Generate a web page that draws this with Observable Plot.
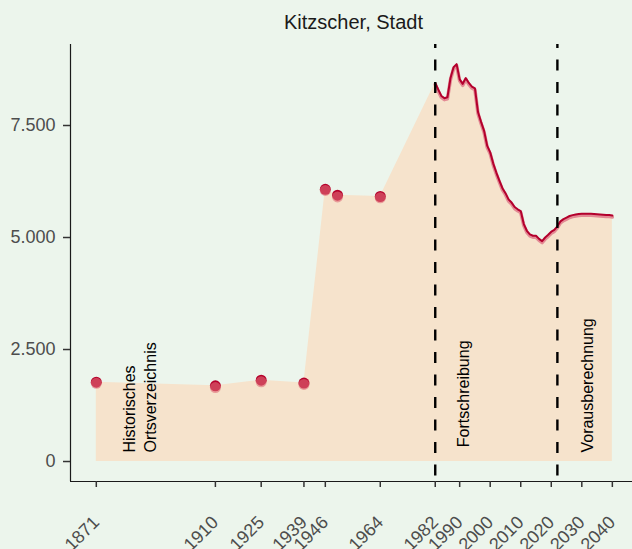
<!DOCTYPE html>
<html><head><meta charset="utf-8">
<script src="https://cdn.jsdelivr.net/npm/d3@7"></script>
<script src="https://cdn.jsdelivr.net/npm/@observablehq/plot@0.6"></script>
<style>html,body{margin:0;padding:0;background:#ecf5ec;} svg{display:block}</style>
</head><body><div id="chart"></div>
<script>
const title = "Kitzscher, Stadt";
// Historisches Ortsverzeichnis (points)
const histYears = [1871, 1910, 1925, 1939, 1946, 1950, 1964];
const histValues = [1770, 1690, 1815, 1750, 6075, 5945, 5915];
const histValuesAlt = [1745, 1650, 1780, 1720, 6050, 5905, 5885];
// Fortschreibung + Vorausberechnung (line)
const lineYears = [1982,1983,1984,1985,1986,1987,1988,1989,1990,1991,1992,1993,1994,1995,1996,1997,1998,1999,2000,
  2001,2002,2003,2004,2005,2006,2007,2008,2009,2010,2011,2012,2013,2014,2015,2016,2017,2018,2019,2020,2021,2022,
  2023,2024,2025,2026,2027,2028,2029,2030,2031,2032,2033,2034,2035,2036,2037,2038,2039,2040];
const lineValues = [8450,8300,8160,8110,8130,8560,8800,8870,8530,8430,8560,8450,8370,8330,7800,7580,7380,7050,6900,
  6650,6450,6270,6100,5990,5850,5780,5680,5630,5590,5300,5150,5070,5040,5040,4970,4920,5000,5060,5130,5170,5250,
  5360,5410,5445,5480,5500,5515,5525,5530,5530,5530,5528,5525,5520,5515,5510,5505,5500,5490];
const breakYears = [1982, 2022];
const annoLabels = ["Historisches\nOrtsverzeichnis", "Fortschreibung", "Vorausberechnung"];
const annoYears = [1885, 1991, 2031.5];
const annoValues = [200, 320, 200];
const xTicks = [1871, 1910, 1925, 1939, 1946, 1964, 1982, 1990, 2000, 2010, 2020, 2030, 2040];
const yTicks = [0, 2500, 5000, 7500];
const xDomain = [1862.55, 2046.6];
const yDomain = [-446, 9308];

const histRows = histYears.map((year, i) => ({year, value: histValues[i], alt: histValuesAlt[i]}));
const lineRows = lineYears.map((year, i) => ({year, value: lineValues[i]}));
const areaRows = histRows.map(d => ({year: d.year, value: d.value})).concat(lineRows);
const annoRows = annoLabels.map((text, i) => ({text, year: annoYears[i], value: annoValues[i]}));

const deLocale = d3.formatLocale({decimal: ",", thousands: ".", grouping: [3], currency: ["", " €"]});
const fmt = deLocale.format(",");
const font = "Liberation Sans, Arial, Helvetica, sans-serif";

const chart = Plot.plot({
  width: 632, height: 549,
  marginLeft: 70, marginRight: 0, marginTop: 44, marginBottom: 68,
  x: {domain: xDomain, axis: null},
  y: {domain: yDomain, axis: null},
  style: {background: "#ecf5ec", fontFamily: font},
  marks: [
    Plot.areaY(areaRows, {x: "year", y: "value", fill: "#f6e3cc"}),
    Plot.line(lineRows, {x: "year", y: "value", stroke: "#e38a94", strokeWidth: 3.5, dy: 1.5}),
    Plot.line(lineRows, {x: "year", y: "value", stroke: "#b3002d", strokeWidth: 2}),
    Plot.dot(histRows, {x: "year", y: "value", r: 5.5, fill: "#b5002b"}),
    Plot.dot(histRows, {x: "year", y: "alt", r: 5.5, fill: "#e06a76", fillOpacity: 0.6}),
    Plot.ruleX(breakYears, {stroke: "#000", strokeWidth: 2.4, strokeDasharray: "11,11.5", strokeDashoffset: 7}),
    Plot.text(annoRows, {x: "year", y: "value", text: "text", rotate: -90, textAnchor: "start",
      lineAnchor: "middle", lineHeight: 1.3, fontSize: 16, fill: "#000"}),
    Plot.ruleX([xDomain[0]], {stroke: "#1a1a1a", strokeWidth: 1.2}),
    Plot.ruleY([yDomain[0]], {stroke: "#1a1a1a", strokeWidth: 1.2}),
    Plot.axisY({ticks: yTicks, tickFormat: fmt, tickSize: 7, tickPadding: 8, fontSize: 18,
      fill: "#4d4d4d", stroke: "#333", strokeWidth: 1.5, label: null}),
    Plot.axisX({ticks: xTicks, tickFormat: () => "", tickSize: 6, stroke: "#333", strokeWidth: 1.5, label: null}),
    Plot.text(xTicks, {x: d => d, text: d => String(d), frameAnchor: "bottom", rotate: -45,
      textAnchor: "end", lineAnchor: "top", dx: -5, dy: 33, fontSize: 18, fill: "#4d4d4d"}),
    Plot.text([title], {text: d => d, frameAnchor: "top", lineAnchor: "bottom", dx: 2, dy: -16,
      fontSize: 20, fill: "#1a1a1a"})
  ]
});
document.getElementById("chart").appendChild(chart);
</script></body></html>
